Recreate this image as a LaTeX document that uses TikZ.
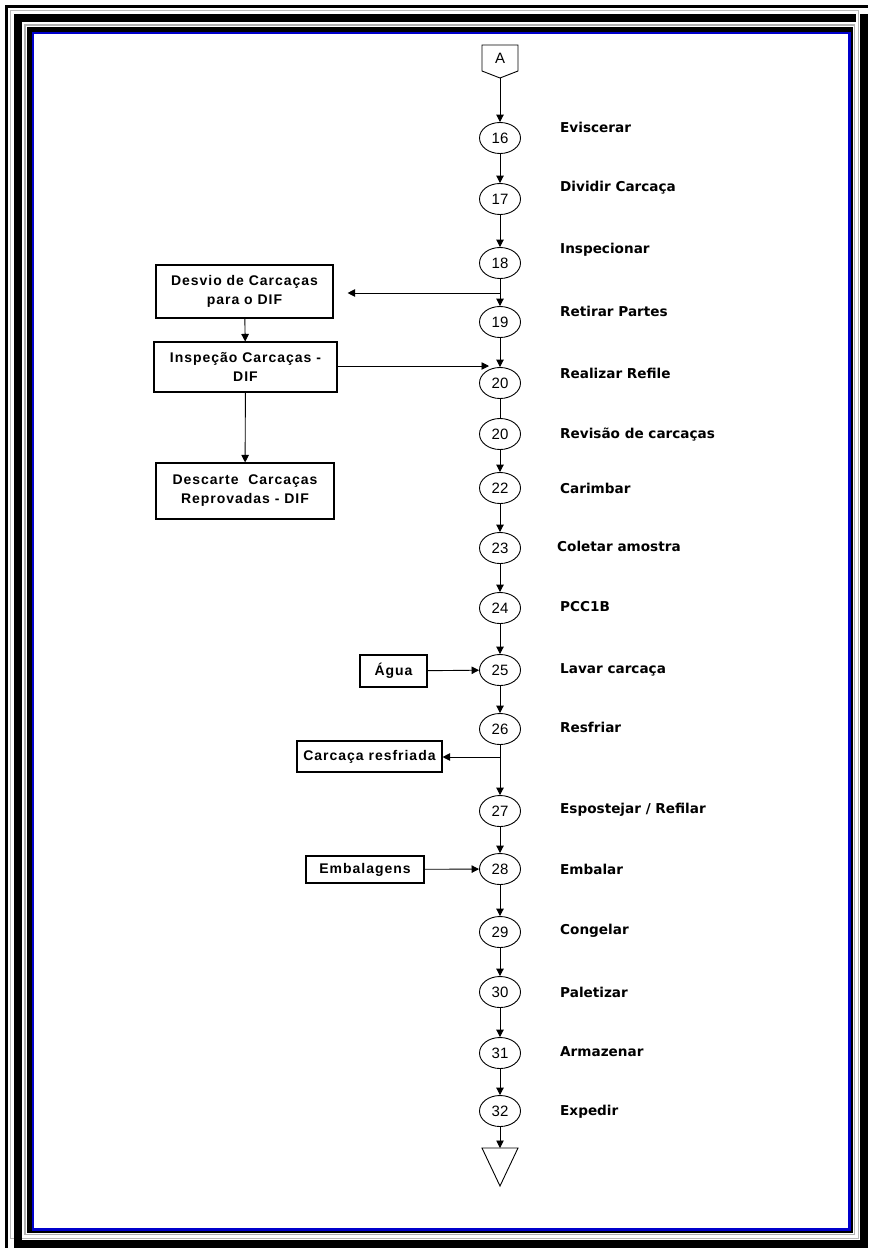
\documentclass[tikz,border=0pt]{standalone}
\usepackage{fontspec}
\setmainfont{Liberation Sans}
\newfontfamily\labfont{DejaVu Sans}
\newfontfamily\boxfont{Liberation Sans}[LetterSpace=7]
\usetikzlibrary{shapes.geometric,arrows.meta}
\begin{document}
\begin{tikzpicture}[x=1pt,y=-1pt,
  proc/.style={ellipse, draw, line width=0.9pt, minimum width=41pt, minimum height=31pt, inner sep=0pt, font=\fontsize{15}{17}\selectfont},
  lbl/.style={anchor=west, inner sep=0pt, font=\labfont\bfseries\fontsize{13.6}{15}\selectfont},
  sbox/.style={draw, line width=1.1pt, inner sep=0pt, align=center, font=\boxfont\bfseries\fontsize{14}{19}\selectfont},
  arr/.style={line width=0.9pt, -{Triangle[length=7.5pt,width=7.5pt]}},
  ln/.style={line width=0.9pt}]
\useasboundingbox (0,0) rectangle (868,1248);
% ---- page frame ----
\fill[white] (0,0) rectangle (868,1248);
\fill[black] (5,5) rectangle (868,7.7);
\fill[black] (5,5) rectangle (7.7,1248);
\draw[gray!55, line width=1pt] (10.5,10.5) rectangle (858.5,1238.5);
\fill[black] (860,14) rectangle (868,1248);
\fill[black] (14,1240) rectangle (868,1248);
\fill[black] (14,14) rectangle (856,22);
\fill[black] (14,14) rectangle (22,1248);
\draw[gray!60, line width=1.5pt] (25,25) rectangle (854.5,1234.5);
\fill[black] (27,27) rectangle (853,1233);
\fill[blue!80!black] (32,32) rectangle (851,1231);
\fill[white] (34.3,34.3) rectangle (848,1228);
% ---- off-page connector A ----
\draw[line width=0.9pt] (482,45) -- (518,45) -- (518,71) -- (500,78) -- (482,71) -- cycle;
\node[font=\fontsize{15}{17}\selectfont] (A) at (500,58) {A};
\coordinate (Abot) at (500,78);
% ---- process steps ----
\node[proc] (p16) at (500,138) {16};
\node[proc] (p17) at (500,199) {17};
\node[proc] (p18) at (500,263) {18};
\node[proc] (p19) at (500,322) {19};
\node[proc] (p20a) at (500,383) {20};
\node[proc] (p20b) at (500,434) {20};
\node[proc] (p22) at (500,488) {22};
\node[proc] (p23) at (500,548) {23};
\node[proc] (p24) at (500,608) {24};
\node[proc] (p25) at (500,670) {25};
\node[proc] (p26) at (500,729) {26};
\node[proc] (p27) at (500,811) {27};
\node[proc] (p28) at (500,869) {28};
\node[proc] (p29) at (500,932) {29};
\node[proc] (p30) at (500,992) {30};
\node[proc] (p31) at (500,1053) {31};
\node[proc] (p32) at (500,1111) {32};
% ---- labels ----
\node[lbl] (l16) at (560,127) {Eviscerar};
\node[lbl] (l17) at (560,188) {Dividir Carcaça};
\node[lbl] (l18) at (560,250) {Inspecionar};
\node[lbl] (l19) at (560,311) {Retirar Partes};
\node[lbl] (l20a) at (560,373) {Realizar Refile};
\node[lbl] (l20b) at (560,435) {Revisão de carcaças};
\node[lbl] (l22) at (560,488) {Carimbar};
\node[lbl] (l23) at (557,546) {Coletar amostra};
\node[lbl] (l24) at (560,607) {PCC1B};
\node[lbl] (l25) at (560,670) {Lavar carcaça};
\node[lbl] (l26) at (560,727) {Resfriar};
\node[lbl] (l27) at (560,810) {Espostejar / Refilar};
\node[lbl] (l28) at (560,869) {Embalar};
\node[lbl] (l29) at (560,931) {Congelar};
\node[lbl] (l30) at (560,992) {Paletizar};
\node[lbl] (l31) at (560,1052) {Armazenar};
\node[lbl] (l32) at (560,1112) {Expedir};
% ---- side boxes ----
\node[sbox, minimum width=177pt, minimum height=53pt] (d1) at (244.5,291.5) {Desvio de Carcaças\\para o DIF};
\node[sbox, minimum width=183pt, minimum height=50pt] (i2) at (245.5,367) {Inspeção Carcaças -\\DIF};
\node[sbox, minimum width=178pt, minimum height=56pt] (d3) at (245,491) {Descarte\ \ Carcaças\\Reprovadas - DIF};
\node[sbox, minimum width=67pt, minimum height=32pt] (agua) at (393.5,671) {Água};
\node[sbox, minimum width=145pt, minimum height=31pt] (cr) at (369.5,756.5) {Carcaça resfriada};
\node[sbox, minimum width=118pt, minimum height=27pt] (emb) at (365,869.5) {Embalagens};
% ---- end triangle ----
\draw[line width=0.9pt] (482,1148) -- (518,1148) -- (500,1186) -- cycle;
\coordinate (tri) at (500,1148);
% ---- main flow ----
\draw[arr] (Abot) -- (p16);
\draw[arr] (p16) -- (p17);
\draw[arr] (p17) -- (p18);
\draw[arr] (p18) -- (p19);
\draw[arr] (p19) -- (p20a);
\draw[ln] (p20a) -- (p20b);
\draw[arr] (p20b) -- (p22);
\draw[arr] (p22) -- (p23);
\draw[arr] (p23) -- (p24);
\draw[arr] (p24) -- (p25);
\draw[arr] (p25) -- (p26);
\draw[arr] (p26) -- (p27);
\draw[arr] (p27) -- (p28);
\draw[arr] (p28) -- (p29);
\draw[arr] (p29) -- (p30);
\draw[arr] (p30) -- (p31);
\draw[arr] (p31) -- (p32);
\draw[arr] (p32) -- (tri);
% ---- branches ----
\coordinate (br1) at (500,293);
\draw[arr, shorten >=14pt] (br1) -- (br1 -| d1.east);
\coordinate (m2) at (500,366);
\draw[arr, shorten >=11pt] (i2.east |- m2) -- (m2);
\draw[arr] (d1) -- (i2);
\draw[arr] (i2) -- (d3);
\draw[arr] (agua) -- (p25);
\coordinate (br3) at (500,757);
\draw[arr] (br3) -- (br3 -| cr.east);
\draw[arr] (emb) -- (p28);
\end{tikzpicture}
\end{document}
